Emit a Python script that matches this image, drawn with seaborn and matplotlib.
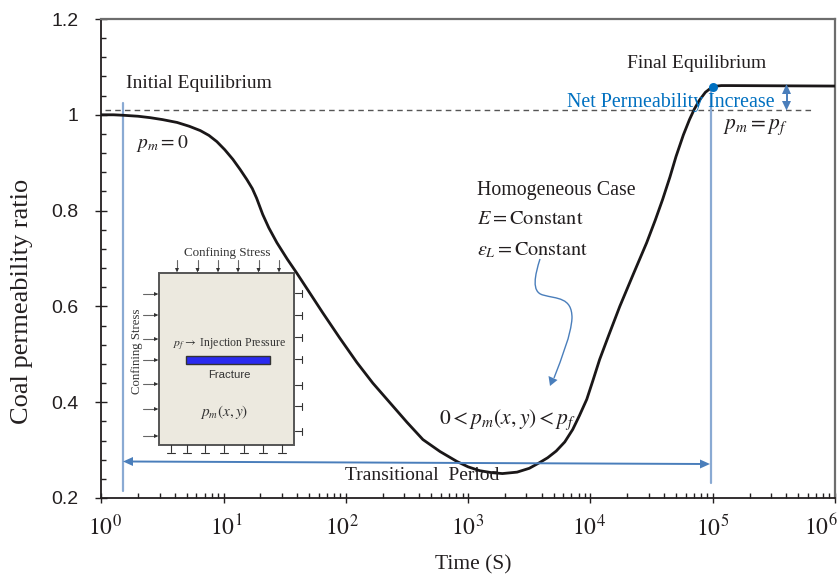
import numpy as np
import matplotlib
matplotlib.use("Agg")
import matplotlib.pyplot as plt
import seaborn as sns
from matplotlib.patches import Rectangle, Polygon, PathPatch
from matplotlib.path import Path
from matplotlib.lines import Line2D
from matplotlib.ticker import FixedLocator, FixedFormatter, NullFormatter
from matplotlib.transforms import Affine2D, ScaledTranslation

log_time = [0.00, 0.10, 0.18, 0.30, 0.40, 0.50, 0.62, 0.72, 0.81, 0.88, 0.945, 1.01, 1.076, 1.135,
            1.19, 1.235, 1.27, 1.32, 1.37, 1.436, 1.52, 1.60, 1.70, 1.81, 1.95, 2.09, 2.22, 2.36,
            2.50, 2.63, 2.77, 2.91, 3.00, 3.095, 3.19, 3.28, 3.40, 3.50, 3.585, 3.65, 3.72, 3.79,
            3.855, 3.91, 3.97, 4.02, 4.075, 4.15, 4.24, 4.35, 4.46, 4.53, 4.59, 4.65, 4.70, 4.76,
            4.81, 4.85, 4.89, 4.94, 5.00, 5.07, 5.14, 6.00]
ratio = [1.000, 1.000, 0.999, 0.997, 0.994, 0.990, 0.984, 0.976, 0.967, 0.957, 0.944, 0.927, 0.907, 0.886,
         0.865, 0.846, 0.826, 0.792, 0.764, 0.733, 0.699, 0.669, 0.630, 0.587, 0.534, 0.483, 0.440, 0.399,
         0.358, 0.322, 0.297, 0.276, 0.265, 0.257, 0.253, 0.251, 0.254, 0.262, 0.274, 0.284, 0.298, 0.317,
         0.343, 0.372, 0.406, 0.445, 0.489, 0.540, 0.600, 0.667, 0.733, 0.780, 0.823, 0.870, 0.913, 0.958,
         0.990, 1.012, 1.030, 1.047, 1.059, 1.061, 1.061, 1.060]
baseline_ratio = 1.01
equilibrium_time = [1e5]
equilibrium_ratio = [1.059]
x_tick_powers = [0, 1, 2, 3, 4, 5, 6]
y_ticks = [0.2, 0.4, 0.6, 0.8, 1.0, 1.2]
y_tick_labels = ["0.2", "0.4", "0.6", "0.8", "1", "1.2"]

sns.set_theme(style="white")
plt.rcParams["font.family"] = ["Liberation Serif", "DejaVu Serif"]
plt.rcParams["mathtext.fontset"] = "stix"

W, H = 840, 575
INK = "#231f20"
LINE_BLUE = "#8aaad3"
ARROW_BLUE = "#4a7ebb"
TEXT_BLUE = "#0070c0"

fig = plt.figure(figsize=(W / 100, H / 100), dpi=100, facecolor="white")
ax = fig.add_axes([101.3 / W, 1 - 498 / H, (835 - 101.3) / W, (498 - 19) / H], facecolor="white")
px = Affine2D().scale(1, -1).translate(0, H)   # figure pixels, y downwards


def txt(x, y, s, size=12.5, ha="left", color=INK, **kw):
    fig.text(x, y, s, transform=px, fontsize=size, ha=ha, va="center", color=color, zorder=8, **kw)


def seg(xs, ys, color=INK, lw=0.8, z=6):
    fig.add_artist(Line2D(xs, ys, transform=px, color=color, lw=lw, zorder=z))


def tri(points, color=ARROW_BLUE, z=7):
    fig.add_artist(Polygon(points, closed=True, transform=px, facecolor=color, edgecolor="none", zorder=z))


time = 10 ** np.array(log_time)
ax.set_xscale("log")
ax.set_xlim(1, 1e6)
ax.set_ylim(0.2, 1.2)

# Reference lines
ax.plot([1.08, 10 ** 5.82], [baseline_ratio, baseline_ratio], color="#555555", lw=1.0, ls=(0, (4, 3)), zorder=2)
ax.plot([1.5, 1.5], [1.025, 0.215], color=LINE_BLUE, lw=1.6, zorder=2)
ax.plot([9.6e4, 9.6e4], [1.06, 0.232], color=LINE_BLUE, lw=1.6, zorder=2)

sns.lineplot(x=time, y=ratio, estimator=None, sort=False, ax=ax, color="#1a1718", lw=2.0, zorder=4)
sns.scatterplot(x=equilibrium_time, y=equilibrium_ratio, ax=ax, color=TEXT_BLUE, s=42, linewidth=0, zorder=5)

# Axes styling
ax.xaxis.set_major_locator(FixedLocator([10.0 ** p for p in x_tick_powers]))
ax.xaxis.set_major_formatter(FixedFormatter([rf"$10^{{{p}}}$" for p in x_tick_powers]))
ax.xaxis.set_minor_locator(FixedLocator([m * 10.0 ** p for p in x_tick_powers[:-1] for m in range(2, 10)]))
ax.xaxis.set_minor_formatter(NullFormatter())
ax.yaxis.set_major_locator(FixedLocator(y_ticks))
ax.yaxis.set_major_formatter(FixedFormatter(y_tick_labels))
ax.yaxis.set_minor_locator(FixedLocator(np.arange(0.24, 1.2, 0.04)))
ax.yaxis.set_minor_formatter(NullFormatter())
ax.tick_params(axis="x", which="major", direction="inout", length=7.5, width=1.0, color=INK,
               labelsize=17, labelcolor=INK, pad=8)
ax.tick_params(axis="y", which="major", direction="inout", length=9, width=1.0, color=INK,
               labelsize=14, labelcolor=INK, pad=12)
ax.tick_params(axis="both", which="minor", direction="in", length=3.5, width=1.0, color=INK)
ax.tick_params(bottom=True, left=True, top=False, right=False, which="both")
for lab in ax.get_yticklabels():
    lab.set_fontfamily("Liberation Sans")
label_shift_px = [4, 3, -4, -1, -1, 0, -14]
for lab, dx in zip(ax.get_xticklabels(), label_shift_px):
    lab.set_transform(lab.get_transform() + ScaledTranslation(dx / 100, 0, fig.dpi_scale_trans))
for side in ("left", "bottom"):
    ax.spines[side].set_color(INK)
    ax.spines[side].set_linewidth(1.3)
for side in ("top", "right"):
    ax.spines[side].set_color("#6d6d6d")
    ax.spines[side].set_linewidth(1.6)

fig.text(22, 301, "Coal permeability ratio", transform=px, rotation=90, fontsize=19, ha="center",
         va="center", color=INK)
fig.text(473, 565, "Time (S)", transform=px, fontsize=15.5, ha="center", va="center", color=INK)

# Annotations
txt(126, 83, "Initial Equilibrium", size=14)
txt(627, 64, "Final Equilibrium", size=14)
txt(567, 103, "Net Permeability Increase", color=TEXT_BLUE, size=14.4)
txt(136, 143, r"$p_m = 0$", size=14)
txt(723, 127, r"$p_m = p_f$", size=15.5)
txt(477, 191, "Homogeneous Case", size=14.3)
txt(477, 220, r"$E = \mathrm{Constant}$", size=14.7)
txt(477, 250, r"$\varepsilon_L = \mathrm{Constant}$", size=14.5)
txt(439, 420, r"$0 < p_m\left(x, y\right) < p_f$", size=15.6)
txt(345, 476, "Transitional  Period", size=14)

# Transitional-period arrow
seg([128, 704], [461.5, 464], color=ARROW_BLUE, lw=1.4)
tri([(123, 461.5), (133, 457), (133, 466)])
tri([(710, 464), (700, 459.5), (700, 468.5)])

# Net-increase arrow
seg([786.5, 786.5], [90, 105], color=ARROW_BLUE, lw=1.4)
tri([(786.5, 84), (782, 94), (791, 94)])
tri([(786.5, 110.5), (782, 101), (791, 101)])

# Curved pointer
curve = Path(
    [(540, 259), (535, 275), (531, 292), (543, 295), (557, 299), (572, 297), (572, 318),
     (571, 335), (562, 357), (554, 378)],
    [Path.MOVETO, Path.CURVE4, Path.CURVE4, Path.CURVE4, Path.CURVE4, Path.CURVE4, Path.CURVE4,
     Path.CURVE4, Path.CURVE4, Path.CURVE4],
)
fig.add_artist(PathPatch(curve, transform=px, fill=False, edgecolor=ARROW_BLUE, lw=1.0, zorder=6))
tri([(550, 386), (548.5, 376), (557.5, 380)])

# Inset sketch
fig.add_artist(Rectangle((158.7, 272.7), 135.6, 172.3, transform=px, facecolor="#ece9df",
                         edgecolor="#555555", lw=1.4, zorder=5))
fig.add_artist(Rectangle((186, 355.5), 84, 8.5, transform=px, facecolor="#2a2af0",
                         edgecolor="#333333", lw=1.0, zorder=6))
for ax_x in (177, 197.5, 218, 238, 258.5, 279):
    seg([ax_x, ax_x], [260, 270], color="#666666", lw=0.8)
    tri([(ax_x, 272.5), (ax_x - 2, 268), (ax_x + 2, 268)], color="#333333")
for ax_y in (294, 315, 339, 360, 384, 409, 436):
    seg([143, 156], [ax_y, ax_y], color="#666666", lw=0.8)
    tri([(158.5, ax_y), (154, ax_y - 2), (154, ax_y + 2)], color="#333333")
for ax_y in (293, 315, 337, 359, 385, 406, 431):
    seg([294.5, 301.5], [ax_y, ax_y], color="#333333", lw=0.8)
    seg([301.5, 301.5], [ax_y - 3.5, ax_y + 3.5], color="#333333", lw=0.8)
for ax_x in (171, 187, 205, 224, 244, 263, 282):
    seg([ax_x, ax_x], [445, 452], color="#333333", lw=0.8)
    seg([ax_x - 4, ax_x + 4], [452.5, 452.5], color="#333333", lw=0.8)
txt(227, 253, "Confining Stress", size=9.4, ha="center", color="#333333")
fig.text(137, 351, "Confining Stress", transform=px, rotation=90, fontsize=9.2, ha="center", va="center",
         color="#333333", zorder=8)
txt(173, 344, r"$p_f \rightarrow$ Injection Pressure", size=8.5, color="#333333")
txt(229.5, 375, "Fracture", size=8.2, ha="center", color="#333333", family="Liberation Sans")
txt(224, 412, r"$p_m\left(x, y\right)$", size=11, ha="center", color="#333333")

fig.savefig("out.png", dpi=100)
